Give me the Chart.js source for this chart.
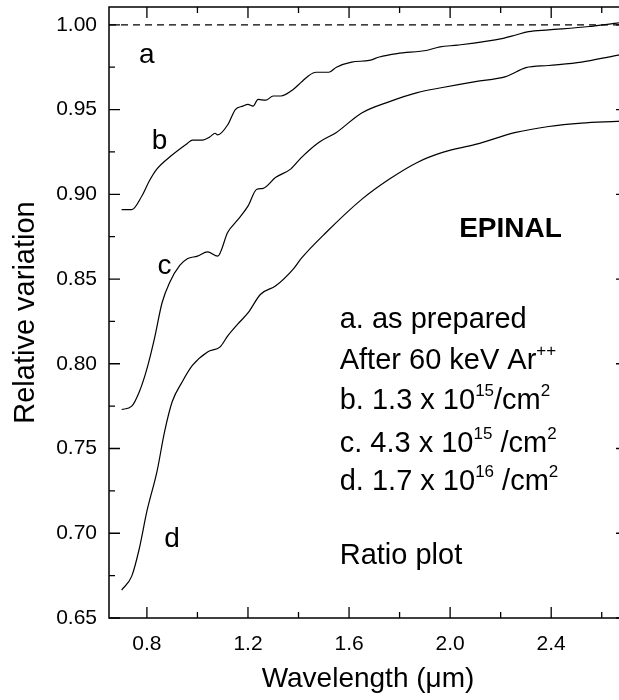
<!DOCTYPE html>
<html>
<head>
<meta charset="utf-8">
<script src="https://cdn.jsdelivr.net/npm/chart.js@4"></script>
<style>
  html, body { margin: 0; padding: 0; background: #fff; overflow: hidden; }
  #wrap { width: 619px; height: 700px; overflow: hidden; }
</style>
</head>
<body>
<div id="wrap"><canvas id="ratioChart" width="630" height="700"></canvas></div>
<script>
// wavelength (um) and relative variation
const wlB = [0.70, 0.74, 0.78, 0.81, 0.84, 0.89, 0.96, 0.98, 1.02, 1.05, 1.07, 1.08, 1.12, 1.15, 1.18, 1.20, 1.22, 1.24, 1.27, 1.30, 1.33, 1.38, 1.41, 1.44, 1.47, 1.52, 1.55, 1.61, 1.68, 1.72, 1.79, 1.91, 1.96, 2.03, 2.21, 2.26, 2.31, 2.39, 2.55, 2.66, 2.70];
const ratioB = [0.891, 0.891, 0.899, 0.908, 0.915, 0.922, 0.930, 0.932, 0.932, 0.934, 0.936, 0.935, 0.941, 0.950, 0.952, 0.953, 0.952, 0.956, 0.9555, 0.958, 0.958, 0.962, 0.966, 0.970, 0.972, 0.972, 0.975, 0.978, 0.979, 0.981, 0.983, 0.985, 0.987, 0.988, 0.992, 0.994, 0.996, 0.997, 0.999, 1.001, 1.0015];

const wlC = [0.70, 0.74, 0.77, 0.80, 0.83, 0.86, 0.89, 0.93, 0.96, 1.00, 1.04, 1.08, 1.12, 1.16, 1.20, 1.235, 1.26, 1.31, 1.37, 1.41, 1.48, 1.55, 1.65, 1.76, 1.87, 1.97, 2.10, 2.22, 2.30, 2.39, 2.52, 2.66, 2.70];
const ratioC = [0.773, 0.775, 0.7835, 0.797, 0.815, 0.836, 0.848, 0.858, 0.862, 0.8635, 0.866, 0.8635, 0.8776, 0.885, 0.893, 0.903, 0.9035, 0.910, 0.915, 0.9215, 0.9306, 0.9365, 0.948, 0.9547, 0.960, 0.963, 0.9665, 0.9694, 0.9747, 0.976, 0.978, 0.982, 0.983];

const wlD = [0.70, 0.74, 0.77, 0.80, 0.84, 0.87, 0.90, 0.94, 0.98, 1.04, 1.09, 1.12, 1.16, 1.20, 1.25, 1.31, 1.38, 1.41, 1.51, 1.65, 1.76, 1.87, 1.97, 2.10, 2.26, 2.39, 2.52, 2.66, 2.70];
const ratioD = [0.6665, 0.6747, 0.691, 0.713, 0.7365, 0.760, 0.7776, 0.7894, 0.799, 0.807, 0.810, 0.8165, 0.8235, 0.830, 0.841, 0.846, 0.856, 0.862, 0.8776, 0.897, 0.909, 0.9188, 0.9247, 0.9294, 0.9365, 0.940, 0.942, 0.943, 0.9433];

const refLine = [0.65, 2.70];
const xMajor = [0.8, 1.2, 1.6, 2.0, 2.4];
const xMinor = [1.0, 1.4, 1.8, 2.2, 2.6];
const yMajor = [0.65, 0.70, 0.75, 0.80, 0.85, 0.90, 0.95, 1.00];
const yMinor = [0.675, 0.725, 0.775, 0.825, 0.875, 0.925, 0.975];

const FONT = "'Liberation Sans', Arial, sans-serif";

function xy(xs, ys) {
  return xs.map((v, i) => ({ x: v, y: ys[i] }));
}

function curve(xs, ys) {
  return {
    data: xy(xs, ys),
    showLine: true,
    borderColor: '#000',
    borderWidth: 1.2,
    pointRadius: 0,
    cubicInterpolationMode: 'monotone'
  };
}

function richText(ctx, x, y, parts) {
  let cx = x;
  parts.forEach(p => {
    if (p.sup) {
      ctx.font = '17px ' + FONT;
      ctx.fillText(p.t, cx, y - 13);
    } else {
      ctx.font = '29px ' + FONT;
      ctx.fillText(p.t, cx, y);
    }
    cx += ctx.measureText(p.t).width;
  });
}

const decor = {
  id: 'decor',
  afterDatasetsDraw(chart) {
    const { ctx, chartArea: a, scales: { x, y } } = chart;
    ctx.save();
    ctx.strokeStyle = '#000';
    ctx.fillStyle = '#000';

    // frame
    ctx.lineWidth = 1.5;
    ctx.strokeRect(a.left, a.top, a.right - a.left, a.bottom - a.top);

    // inward ticks on all four sides
    ctx.lineWidth = 1.3;
    ctx.beginPath();
    const tickX = (v, len) => {
      const px = x.getPixelForValue(v);
      ctx.moveTo(px, a.bottom); ctx.lineTo(px, a.bottom - len);
      ctx.moveTo(px, a.top); ctx.lineTo(px, a.top + len);
    };
    const tickY = (v, len) => {
      const py = y.getPixelForValue(v);
      ctx.moveTo(a.left, py); ctx.lineTo(a.left + len, py);
      ctx.moveTo(a.right, py); ctx.lineTo(a.right - len, py);
    };
    xMajor.forEach(v => tickX(v, 11));
    xMinor.forEach(v => tickX(v, 6));
    yMajor.forEach(v => tickY(v, 11));
    yMinor.forEach(v => tickY(v, 6));
    ctx.stroke();

    // curve letters
    ctx.font = '28px ' + FONT;
    ctx.textAlign = 'center';
    ctx.textBaseline = 'middle';
    [['a', 0.80, 0.982], ['b', 0.85, 0.9315], ['c', 0.87, 0.8575], ['d', 0.899, 0.6965]].forEach(l => {
      ctx.fillText(l[0], x.getPixelForValue(l[1]), y.getPixelForValue(l[2]));
    });

    // sample label
    ctx.font = 'bold 28px ' + FONT;
    ctx.fillText('EPINAL', x.getPixelForValue(2.239), y.getPixelForValue(0.8795));

    // legend text block
    ctx.textAlign = 'left';
    ctx.textBaseline = 'alphabetic';
    const lx = x.getPixelForValue(1.563);
    const lines = [
      [0.8212, [{ t: 'a. as prepared' }]],
      [0.797, [{ t: 'After 60 keV Ar' }, { t: '++', sup: true }]],
      [0.7735, [{ t: 'b. 1.3 x 10' }, { t: '15', sup: true }, { t: '/cm' }, { t: '2', sup: true }]],
      [0.748, [{ t: 'c. 4.3 x 10' }, { t: '15', sup: true }, { t: ' /cm' }, { t: '2', sup: true }]],
      [0.7253, [{ t: 'd. 1.7 x 10' }, { t: '16', sup: true }, { t: ' /cm' }, { t: '2', sup: true }]],
      [0.6818, [{ t: 'Ratio plot' }]]
    ];
    lines.forEach(l => richText(ctx, lx, y.getPixelForValue(l[0]), l[1]));
    ctx.restore();
  }
};

const ctx = document.getElementById('ratioChart').getContext('2d');

new Chart(ctx, {
  type: 'scatter',
  data: {
    datasets: [
      {
        data: xy(refLine, [1.0, 1.0]),
        showLine: true,
        borderColor: '#000',
        borderWidth: 1.2,
        borderDash: [7, 5],
        pointRadius: 0
      },
      curve(wlB, ratioB),
      curve(wlC, ratioC),
      curve(wlD, ratioD)
    ]
  },
  options: {
    responsive: false,
    animation: false,
    layout: { padding: { top: 7, right: 3, left: 0, bottom: 0 } },
    plugins: {
      legend: { display: false },
      tooltip: { enabled: false }
    },
    scales: {
      x: {
        type: 'linear',
        min: 0.65,
        max: 2.70,
        afterBuildTicks: s => { s.ticks = xMajor.map(v => ({ value: v })); },
        afterFit: s => { s.height = 82; s.paddingLeft = 0; s.paddingRight = 0; },
        grid: { display: false, drawTicks: false },
        border: { display: false },
        ticks: {
          padding: 14,
          color: '#000',
          font: { family: FONT, size: 21 },
          callback: v => v.toFixed(1)
        },
        title: {
          display: true,
          text: 'Wavelength (\u03bcm)',
          color: '#000',
          font: { family: FONT, size: 28 },
          padding: { top: 4 }
        }
      },
      y: {
        min: 0.65,
        max: 1.0105,
        afterBuildTicks: s => { s.ticks = yMajor.map(v => ({ value: v })); },
        afterFit: s => { s.width = 109; s.paddingTop = 0; s.paddingBottom = 0; },
        grid: { display: false, drawTicks: false },
        border: { display: false },
        ticks: {
          padding: 12,
          color: '#000',
          font: { family: FONT, size: 21 },
          callback: v => v.toFixed(2)
        },
        title: {
          display: true,
          text: 'Relative variation',
          color: '#000',
          font: { family: FONT, size: 29 },
          padding: { top: 9, bottom: 0 }
        }
      }
    }
  },
  plugins: [decor]
});
</script>
</body>
</html>
